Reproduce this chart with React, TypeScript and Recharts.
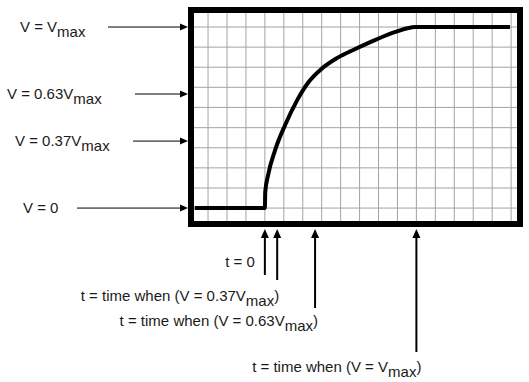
import React from 'react'
import { LineChart, Line, XAxis, YAxis, CartesianGrid, ReferenceArea } from 'recharts'

// charging curve, t in grid columns (t = 0 at the step), v as a fraction of Vmax
const curveT = [-3.7, 0, 0.02, 0.17, 0.54, 1.07, 1.7, 2.3, 3.0, 3.8, 4.8, 5.9, 6.9, 7.94, 12.94]
const curveV = [0, 0, 0.09, 0.182, 0.32, 0.459, 0.595, 0.695, 0.77, 0.828, 0.88, 0.932, 0.973, 1, 1]

// grid lines
const gridT = [-3, -2, -1, 0, 1, 2, 3, 4, 5, 6, 7, 8, 9, 10, 11, 12, 13]
const gridV = [0, 0.111, 0.222, 0.333, 0.444, 0.556, 0.667, 0.778, 0.889, 1]

// voltage markers on the left
const vTicks = [0, 0.37, 0.63, 1]
const vTickMain = ['V = 0', 'V = 0.37V', 'V = 0.63V', 'V = V']
const vTickSub = ['', 'max', 'max', 'max']

// time markers below
const tTicks = [0, 0.65, 2.65, 8]
const tTickMain = ['t = 0', 't = time when (V = 0.37V', 't = time when (V = 0.63V', 't = time when (V = V']
const tTickSub = ['', 'max', 'max', 'max']
const tTickTail = ['', ')', ')', ')']

const data = curveT.map((t, i) => ({ t, v: curveV[i] }))

const T_DOMAIN: [number, number] = [-3.9, 13.47]
const V_DOMAIN: [number, number] = [-0.088, 1.094]

// frame geometry (border is 6px, centred on the plot edge)
const PLOT_LEFT = 191
const PLOT_TOP = 10
const PLOT_BOTTOM = 224
const BORDER = 6

const font = { fontFamily: '"Liberation Sans", Arial, sans-serif', fontSize: 15, fill: '#1a1a1a' }

// where each left label starts and where its arrow starts
const vLayout = [
  { textX: 23, lineX: 77 },
  { textX: 15, lineX: 133 },
  { textX: 7, lineX: 135 },
  { textX: 20, lineX: 108 },
]

// label offset from the arrow, label baseline and arrow tail for each time marker
const tLayout = [
  { dx: -10, baseline: 267, tail: 275 },
  { dx: 2, baseline: 301, tail: 280 },
  { dx: 3, baseline: 326, tail: 308 },
  { dx: 5, baseline: 372, tail: 352 },
]

function VTick(props: any) {
  const { y, payload } = props
  const i = vTicks.indexOf(payload.value)
  if (i < 0) return null
  const lay = vLayout[i]
  const tip = PLOT_LEFT - BORDER / 2
  return (
    <g>
      <text x={lay.textX} y={y + 5} {...font}>
        {vTickMain[i]}
        {vTickSub[i] && <tspan dy={5}>{vTickSub[i]}</tspan>}
      </text>
      <line x1={lay.lineX} y1={y} x2={tip - 6} y2={y} stroke="#000" strokeWidth={1} />
      <polygon points={`${tip},${y} ${tip - 8},${y - 3.5} ${tip - 8},${y + 3.5}`} fill="#000" />
    </g>
  )
}

function TTick(props: any) {
  const { x, payload } = props
  const i = tTicks.indexOf(payload.value)
  if (i < 0) return null
  const lay = tLayout[i]
  const tip = PLOT_BOTTOM + BORDER / 2 + 2
  return (
    <g>
      <line x1={x} y1={tip + 6} x2={x} y2={lay.tail} stroke="#000" strokeWidth={2} />
      <polygon points={`${x},${tip} ${x - 4},${tip + 9} ${x + 4},${tip + 9}`} fill="#000" />
      <text x={x + lay.dx} y={lay.baseline} textAnchor="end" {...font}>
        {tTickMain[i]}
        {tTickSub[i] && <tspan dy={5}>{tTickSub[i]}</tspan>}
        {tTickTail[i] && <tspan dy={-5}>{tTickTail[i]}</tspan>}
      </text>
    </g>
  )
}

export default function App() {
  return (
    <div style={{ position: 'absolute', left: 0, top: 0, background: '#fff' }}>
      <LineChart width={529} height={382} data={data} margin={{ top: PLOT_TOP, right: 9, bottom: 0, left: 0 }}>
        <XAxis xAxisId="grid" type="number" dataKey="t" domain={T_DOMAIN} ticks={gridT} interval={0} allowDataOverflow hide />
        <YAxis yAxisId="grid" type="number" domain={V_DOMAIN} ticks={gridV} interval={0} allowDataOverflow hide />
        <XAxis
          xAxisId="mark"
          type="number"
          dataKey="t"
          domain={T_DOMAIN}
          ticks={tTicks}
          interval={0}
          allowDataOverflow
          height={382 - PLOT_BOTTOM}
          axisLine={false}
          tickLine={false}
          tickSize={0}
          tickMargin={0}
          tick={<TTick />}
        />
        <YAxis
          yAxisId="mark"
          type="number"
          domain={V_DOMAIN}
          ticks={vTicks}
          interval={0}
          allowDataOverflow
          width={PLOT_LEFT}
          axisLine={false}
          tickLine={false}
          tickSize={0}
          tickMargin={0}
          tick={<VTick />}
        />
        <CartesianGrid xAxisId="grid" yAxisId="grid" stroke="#a3a3a3" strokeWidth={1} />
        <Line
          xAxisId="grid"
          yAxisId="grid"
          type="monotone"
          dataKey="v"
          stroke="#000"
          strokeWidth={4}
          dot={false}
          isAnimationActive={false}
        />
        <ReferenceArea
          xAxisId="grid"
          yAxisId="grid"
          x1={T_DOMAIN[0]}
          x2={T_DOMAIN[1]}
          y1={V_DOMAIN[0]}
          y2={V_DOMAIN[1]}
          fill="none"
          fillOpacity={0}
          stroke="#000"
          strokeWidth={BORDER}
          ifOverflow="visible"
        />
      </LineChart>
    </div>
  )
}
